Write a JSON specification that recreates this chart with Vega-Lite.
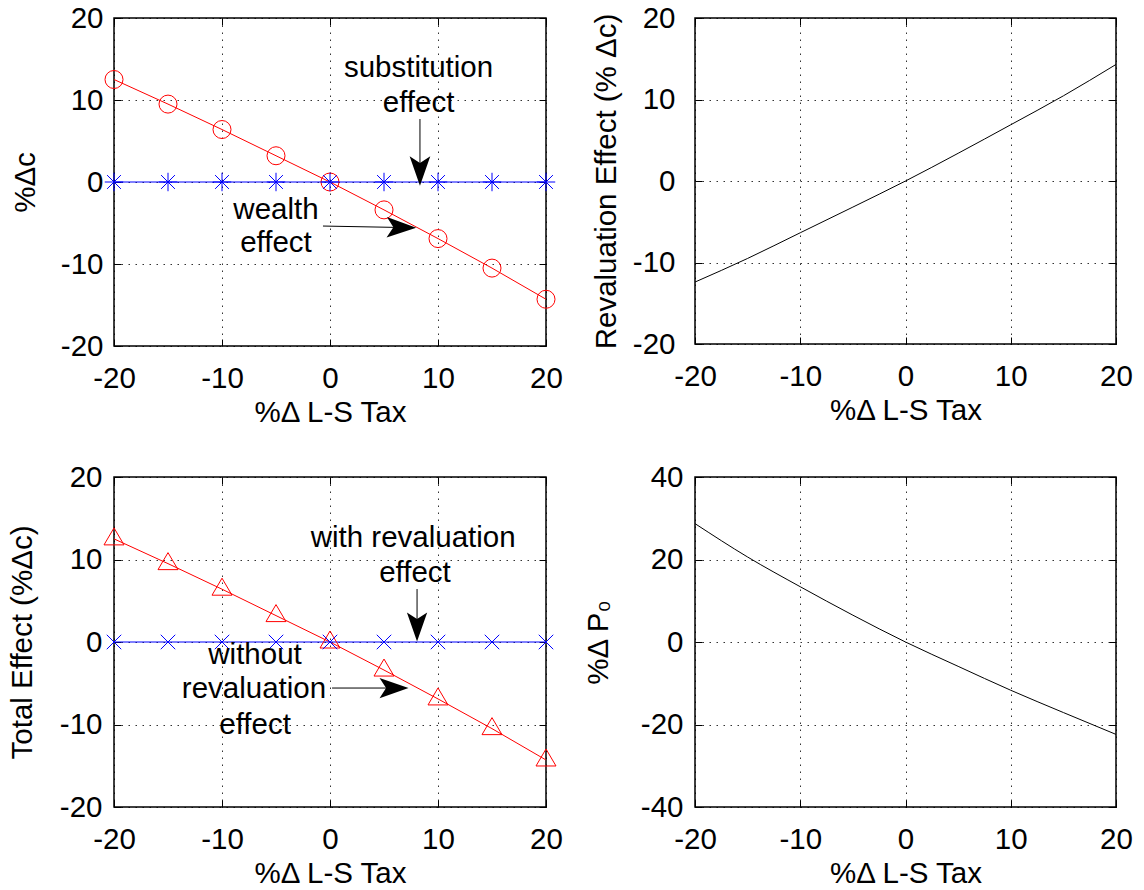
{
  "$schema": "https://vega.github.io/schema/vega-lite/v6.json",
  "background": "white",
  "padding": {"left": 6, "top": 2, "right": 5, "bottom": 5},
  "columns": 2,
  "spacing": {"row": 131, "column": 149},
  "bounds": "flush",
  "config": {
    "font": "Liberation Sans",
    "view": {"stroke": "black", "strokeWidth": 1.5},
    "axis": {
      "labelFont": "Liberation Sans", "titleFont": "Liberation Sans",
      "labelFontSize": 29.5, "titleFontSize": 29.5, "titleFontWeight": "normal",
      "labelColor": "black", "titleColor": "black",
      "domain": false, "grid": true, "gridColor": "black", "gridDash": [1.5, 5.5], "gridOpacity": 0.8, "gridWidth": 1,
      "tickColor": "black", "tickWidth": 1,
      "labelFlush": false, "labelOverlap": false, "labelBound": false
    }
  },
  "datasets": {
    "tl": [
      {"x": -20, "y": 12.5, "s": "total"}, {"x": -15, "y": 9.5, "s": "total"}, {"x": -10, "y": 6.4, "s": "total"},
      {"x": -5, "y": 3.2, "s": "total"}, {"x": 0, "y": 0, "s": "total"}, {"x": 5, "y": -3.4, "s": "total"},
      {"x": 10, "y": -6.9, "s": "total"}, {"x": 15, "y": -10.5, "s": "total"}, {"x": 20, "y": -14.3, "s": "total"},
      {"x": -20, "y": 0, "s": "sub"}, {"x": -15, "y": 0, "s": "sub"}, {"x": -10, "y": 0, "s": "sub"},
      {"x": -5, "y": 0, "s": "sub"}, {"x": 0, "y": 0, "s": "sub"}, {"x": 5, "y": 0, "s": "sub"},
      {"x": 10, "y": 0, "s": "sub"}, {"x": 15, "y": 0, "s": "sub"}, {"x": 20, "y": 0, "s": "sub"}
    ],
    "bl": [
      {"x": -20, "y": 12.5, "s": "without"}, {"x": -15, "y": 9.5, "s": "without"}, {"x": -10, "y": 6.4, "s": "without"},
      {"x": -5, "y": 3.2, "s": "without"}, {"x": 0, "y": 0, "s": "without"}, {"x": 5, "y": -3.4, "s": "without"},
      {"x": 10, "y": -6.9, "s": "without"}, {"x": 15, "y": -10.5, "s": "without"}, {"x": 20, "y": -14.3, "s": "without"},
      {"x": -20, "y": 0, "s": "with"}, {"x": -15, "y": 0, "s": "with"}, {"x": -10, "y": 0, "s": "with"},
      {"x": -5, "y": 0, "s": "with"}, {"x": 0, "y": 0, "s": "with"}, {"x": 5, "y": 0, "s": "with"},
      {"x": 10, "y": 0, "s": "with"}, {"x": 15, "y": 0, "s": "with"}, {"x": 20, "y": 0, "s": "with"}
    ],
    "tr": [
      {"x": -20, "y": -12.4}, {"x": -15, "y": -9.5}, {"x": -10, "y": -6.35}, {"x": -5, "y": -3.2}, {"x": 0, "y": 0},
      {"x": 5, "y": 3.4}, {"x": 10, "y": 6.9}, {"x": 15, "y": 10.45}, {"x": 20, "y": 14.3}
    ],
    "br": [
      {"x": -20, "y": 28.7}, {"x": -15, "y": 20.6}, {"x": -10, "y": 13.4}, {"x": -5, "y": 6.5}, {"x": 0, "y": 0},
      {"x": 5, "y": -5.9}, {"x": 10, "y": -11.7}, {"x": 15, "y": -17.1}, {"x": 20, "y": -22.4}
    ],
    "annTL": [
      {"x": 8.2, "y": 13.9, "t": "substitution"}, {"x": 8.2, "y": 9.63, "t": "effect"},
      {"x": -5.0, "y": -3.41, "t": "wealth"}, {"x": -5.0, "y": -7.44, "t": "effect"}
    ],
    "arrTL": [
      {"x": 8.33, "y": 7.68, "x2": 8.33, "y2": 1.34, "a": 180},
      {"x": -0.65, "y": -5.37, "x2": 6.62, "y2": -5.55, "a": 91}
    ],
    "annBL": [
      {"x": 7.7, "y": 12.6, "t": "with revaluation"}, {"x": 7.87, "y": 8.36, "t": "effect"},
      {"x": -6.94, "y": -1.58, "t": "without"}, {"x": -7.04, "y": -5.7, "t": "revaluation"}, {"x": -6.94, "y": -10.06, "t": "effect"}
    ],
    "arrBL": [
      {"x": 8.06, "y": 6.42, "x2": 8.06, "y2": 1.82, "a": 180},
      {"x": 0.19, "y": -5.58, "x2": 5.93, "y2": -5.58, "a": 90}
    ]
  },
  "concat": [
    {
      "width": 432, "height": 328,
      "resolve": {"axis": {"x": "independent", "y": "independent"}},
      "layer": [
        {
          "data": {"name": "tl"}, "transform": [{"filter": "datum.s === 'total'"}],
          "mark": {"type": "line", "color": "#ff0000", "strokeWidth": 1},
          "encoding": {
            "x": {"field": "x", "type": "quantitative", "scale": {"domain": [-20, 20]},
                  "axis": {"values": [-20, -10, 0, 10, 20], "title": "%Δ L-S Tax", "labelExpr": "replace(datum.label, '−', '-')", "labelPadding": 25, "titlePadding": 6, "tickSize": -7}},
            "y": {"field": "y", "type": "quantitative", "scale": {"domain": [-20, 20]},
                  "axis": {"values": [-20, -10, 0, 10, 20], "title": "%Δc", "labelExpr": "replace(datum.label, '−', '-')", "labelPadding": 18, "titlePadding": 20, "tickSize": -7}}
          }
        },
        {
          "data": {"name": "tl"}, "transform": [{"filter": "datum.s === 'sub'"}],
          "mark": {"type": "line", "color": "#0000ff", "strokeWidth": 1},
          "encoding": {
            "x": {"field": "x", "type": "quantitative", "scale": {"domain": [-20, 20]},
                  "axis": {"orient": "top", "values": [-20, -10, 0, 10, 20], "labels": false, "title": null, "grid": false, "tickSize": -7}},
            "y": {"field": "y", "type": "quantitative", "scale": {"domain": [-20, 20]},
                  "axis": {"orient": "right", "values": [-20, -10, 0, 10, 20], "labels": false, "title": null, "grid": false, "tickSize": -7}}
          }
        },
        {
          "data": {"name": "tl"}, "transform": [{"filter": "datum.s === 'total'"}],
          "mark": {"type": "point", "shape": "circle", "filled": false, "stroke": "#ff0000", "strokeWidth": 1, "size": 324, "opacity": 1},
          "encoding": {
            "x": {"field": "x", "type": "quantitative", "axis": null},
            "y": {"field": "y", "type": "quantitative", "axis": null}
          }
        },
        {
          "data": {"name": "tl"}, "transform": [{"filter": "datum.s === 'sub'"}],
          "mark": {"type": "point", "shape": "M0,-1L0,1M-1,0L1,0M-0.75,-0.75L0.75,0.75M-0.75,0.75L0.75,-0.75", "filled": false, "stroke": "#0000ff", "strokeWidth": 1, "size": 340, "opacity": 1},
          "encoding": {
            "x": {"field": "x", "type": "quantitative", "axis": null},
            "y": {"field": "y", "type": "quantitative", "axis": null}
          }
        },
        {
          "data": {"name": "annTL"},
          "mark": {"type": "text", "font": "Liberation Sans", "fontSize": 29.5, "align": "center", "baseline": "middle", "color": "black"},
          "encoding": {
            "x": {"field": "x", "type": "quantitative", "axis": null},
            "y": {"field": "y", "type": "quantitative", "axis": null},
            "text": {"field": "t"}
          }
        },
        {
          "data": {"name": "arrTL"},
          "mark": {"type": "rule", "color": "black", "strokeWidth": 1},
          "encoding": {
            "x": {"field": "x", "type": "quantitative", "axis": null},
            "y": {"field": "y", "type": "quantitative", "axis": null},
            "x2": {"field": "x2"},
            "y2": {"field": "y2"}
          }
        },
        {
          "data": {"name": "arrTL"},
          "mark": {"type": "point", "shape": "M0,-1L0.7,1L0,0.55L-0.7,1Z", "filled": true, "fill": "black", "strokeWidth": 0, "size": 870, "opacity": 1},
          "encoding": {
            "x": {"field": "x2", "type": "quantitative", "axis": null},
            "y": {"field": "y2", "type": "quantitative", "axis": null},
            "angle": {"field": "a", "type": "quantitative", "scale": null}
          }
        }
      ]
    },
    {
      "width": 421, "height": 326,
      "resolve": {"axis": {"x": "independent", "y": "independent"}},
      "layer": [
        {
          "data": {"name": "tr"},
          "mark": {"type": "line", "color": "black", "strokeWidth": 1, "interpolate": "monotone"},
          "encoding": {
            "x": {"field": "x", "type": "quantitative", "scale": {"domain": [-20, 20]},
                  "axis": {"values": [-20, -10, 0, 10, 20], "title": "%Δ L-S Tax", "labelExpr": "replace(datum.label, '−', '-')", "labelPadding": 25, "titlePadding": 6, "tickSize": -7}},
            "y": {"field": "y", "type": "quantitative", "scale": {"domain": [-20, 20]},
                  "axis": {"values": [-20, -10, 0, 10, 20], "title": "Revaluation Effect (% Δc)", "labelExpr": "replace(datum.label, '−', '-')", "labelPadding": 27, "titlePadding": 11, "tickSize": -7}}
          }
        },
        {
          "data": {"name": "tr"},
          "mark": {"type": "line", "opacity": 0},
          "encoding": {
            "x": {"field": "x", "type": "quantitative", "scale": {"domain": [-20, 20]},
                  "axis": {"orient": "top", "values": [-20, -10, 0, 10, 20], "labels": false, "title": null, "grid": false, "tickSize": -7}},
            "y": {"field": "y", "type": "quantitative", "scale": {"domain": [-20, 20]},
                  "axis": {"orient": "right", "values": [-20, -10, 0, 10, 20], "labels": false, "title": null, "grid": false, "tickSize": -7}}
          }
        }
      ]
    },
    {
      "width": 432, "height": 330,
      "resolve": {"axis": {"x": "independent", "y": "independent"}},
      "layer": [
        {
          "data": {"name": "bl"}, "transform": [{"filter": "datum.s === 'without'"}],
          "mark": {"type": "line", "color": "#ff0000", "strokeWidth": 1},
          "encoding": {
            "x": {"field": "x", "type": "quantitative", "scale": {"domain": [-20, 20]},
                  "axis": {"values": [-20, -10, 0, 10, 20], "title": "%Δ L-S Tax", "labelExpr": "replace(datum.label, '−', '-')", "labelPadding": 25, "titlePadding": 6, "tickSize": -7}},
            "y": {"field": "y", "type": "quantitative", "scale": {"domain": [-20, 20]},
                  "axis": {"values": [-20, -10, 0, 10, 20], "title": "Total Effect (%Δc)", "labelExpr": "replace(datum.label, '−', '-')", "labelPadding": 19, "titlePadding": 22, "tickSize": -7}}
          }
        },
        {
          "data": {"name": "bl"}, "transform": [{"filter": "datum.s === 'with'"}],
          "mark": {"type": "line", "color": "#0000ff", "strokeWidth": 1},
          "encoding": {
            "x": {"field": "x", "type": "quantitative", "scale": {"domain": [-20, 20]},
                  "axis": {"orient": "top", "values": [-20, -10, 0, 10, 20], "labels": false, "title": null, "grid": false, "tickSize": -7}},
            "y": {"field": "y", "type": "quantitative", "scale": {"domain": [-20, 20]},
                  "axis": {"orient": "right", "values": [-20, -10, 0, 10, 20], "labels": false, "title": null, "grid": false, "tickSize": -7}}
          }
        },
        {
          "data": {"name": "bl"}, "transform": [{"filter": "datum.s === 'without'"}],
          "mark": {"type": "point", "shape": "M0,-1.1L1,0.6L-1,0.6Z", "filled": false, "stroke": "#ff0000", "strokeWidth": 1, "size": 400, "opacity": 1},
          "encoding": {
            "x": {"field": "x", "type": "quantitative", "axis": null},
            "y": {"field": "y", "type": "quantitative", "axis": null}
          }
        },
        {
          "data": {"name": "bl"}, "transform": [{"filter": "datum.s === 'with'"}],
          "mark": {"type": "point", "shape": "M-1,-1L1,1M-1,1L1,-1", "filled": false, "stroke": "#0000ff", "strokeWidth": 1, "size": 210, "opacity": 1},
          "encoding": {
            "x": {"field": "x", "type": "quantitative", "axis": null},
            "y": {"field": "y", "type": "quantitative", "axis": null}
          }
        },
        {
          "data": {"name": "annBL"},
          "mark": {"type": "text", "font": "Liberation Sans", "fontSize": 29.5, "align": "center", "baseline": "middle", "color": "black"},
          "encoding": {
            "x": {"field": "x", "type": "quantitative", "axis": null},
            "y": {"field": "y", "type": "quantitative", "axis": null},
            "text": {"field": "t"}
          }
        },
        {
          "data": {"name": "arrBL"},
          "mark": {"type": "rule", "color": "black", "strokeWidth": 1},
          "encoding": {
            "x": {"field": "x", "type": "quantitative", "axis": null},
            "y": {"field": "y", "type": "quantitative", "axis": null},
            "x2": {"field": "x2"},
            "y2": {"field": "y2"}
          }
        },
        {
          "data": {"name": "arrBL"},
          "mark": {"type": "point", "shape": "M0,-1L0.7,1L0,0.55L-0.7,1Z", "filled": true, "fill": "black", "strokeWidth": 0, "size": 840, "opacity": 1},
          "encoding": {
            "x": {"field": "x2", "type": "quantitative", "axis": null},
            "y": {"field": "y2", "type": "quantitative", "axis": null},
            "angle": {"field": "a", "type": "quantitative", "scale": null}
          }
        }
      ]
    },
    {
      "width": 421, "height": 330,
      "resolve": {"axis": {"x": "independent", "y": "independent"}},
      "layer": [
        {
          "data": {"name": "br"},
          "mark": {"type": "line", "color": "black", "strokeWidth": 1, "interpolate": "monotone"},
          "encoding": {
            "x": {"field": "x", "type": "quantitative", "scale": {"domain": [-20, 20]},
                  "axis": {"values": [-20, -10, 0, 10, 20], "title": "%Δ L-S Tax", "labelExpr": "replace(datum.label, '−', '-')", "labelPadding": 25, "titlePadding": 6, "tickSize": -7}},
            "y": {"field": "y", "type": "quantitative", "scale": {"domain": [-40, 40]},
                  "axis": {"values": [-40, -20, 0, 20, 40], "title": "%Δ P₀", "labelExpr": "replace(datum.label, '−', '-')", "labelPadding": 19, "titlePadding": 27, "tickSize": -7}}
          }
        },
        {
          "data": {"name": "br"},
          "mark": {"type": "line", "opacity": 0},
          "encoding": {
            "x": {"field": "x", "type": "quantitative", "scale": {"domain": [-20, 20]},
                  "axis": {"orient": "top", "values": [-20, -10, 0, 10, 20], "labels": false, "title": null, "grid": false, "tickSize": -7}},
            "y": {"field": "y", "type": "quantitative", "scale": {"domain": [-40, 40]},
                  "axis": {"orient": "right", "values": [-40, -20, 0, 20, 40], "labels": false, "title": null, "grid": false, "tickSize": -7}}
          }
        }
      ]
    }
  ]
}
